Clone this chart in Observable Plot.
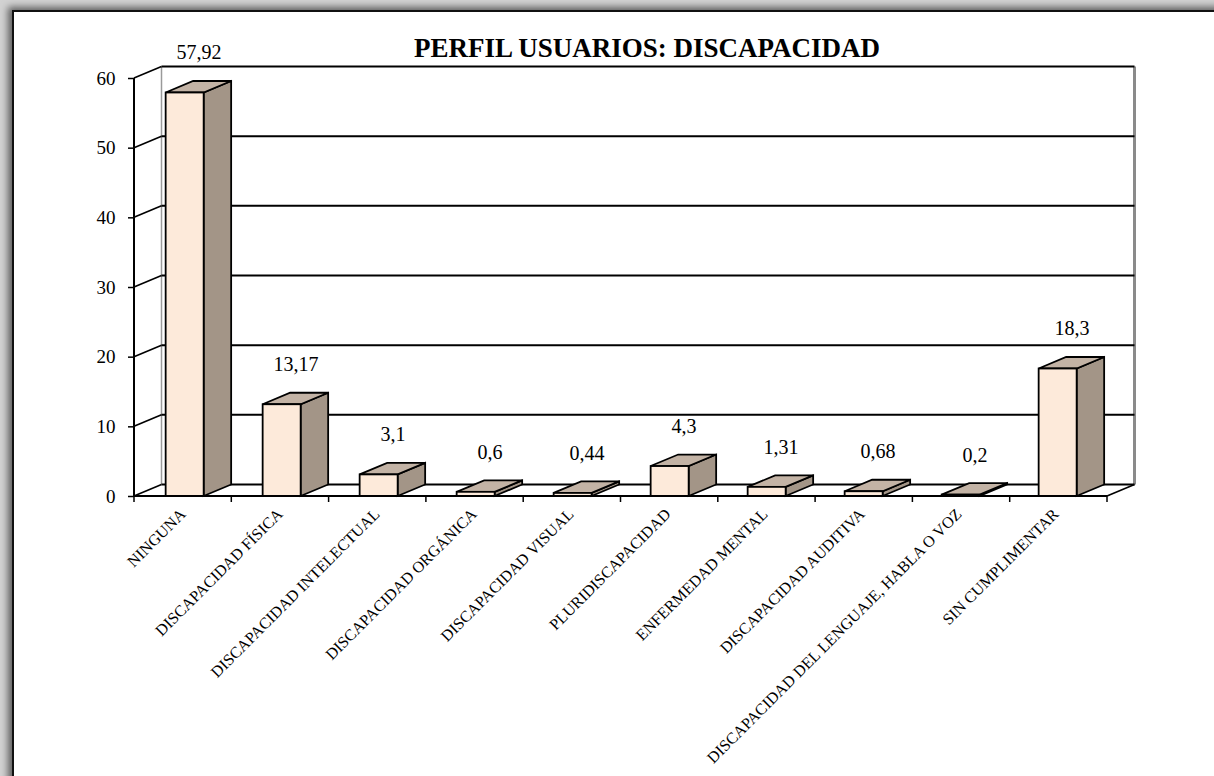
<!DOCTYPE html>
<html><head><meta charset="utf-8">
<script src="https://cdn.jsdelivr.net/npm/d3@7"></script>
<script src="https://cdn.jsdelivr.net/npm/@observablehq/plot@0.6"></script>
<style>
html,body{margin:0;padding:0;width:1214px;height:776px;overflow:hidden;background:#d2d2d2;}
#panel{position:absolute;left:12px;top:10px;width:1400px;height:1000px;background:#fff;border-top:2px solid #111;border-left:2px solid #111;box-shadow:-4px -3px 7px rgba(0,0,0,.55);}
#chart{position:absolute;left:0;top:0;}
#chart svg, #chart svg text, #chart svg g {font-family:"Liberation Serif", "Times New Roman", serif !important;}
</style></head>
<body><div id="panel"></div><div id="chart"></div>
<script>
const title = "PERFIL USUARIOS: DISCAPACIDAD";
const categories = [
  "NINGUNA",
  "DISCAPACIDAD FÍSICA",
  "DISCAPACIDAD INTELECTUAL",
  "DISCAPACIDAD ORGÁNICA",
  "DISCAPACIDAD VISUAL",
  "PLURIDISCAPACIDAD",
  "ENFERMEDAD MENTAL",
  "DISCAPACIDAD AUDITIVA",
  "DISCAPACIDAD DEL LENGUAJE, HABLA O VOZ",
  "SIN CUMPLIMENTAR"
];
const values = [57.92, 13.17, 3.1, 0.6, 0.44, 4.3, 1.31, 0.68, 0.2, 18.3];
const yTicks = [0, 10, 20, 30, 40, 50, 60];

const rows = categories.map((c, i) => ({cat: c, value: values[i], label: String(values[i]).replace(".", ",")}));

const FONT = "Liberation Serif";
const DX = 27.5, DY = -11.5, HALF = 19;
const FRONT = "#FDEADA", SIDE = "#A39587", TOP = "#C3B3A5";

function scene(index, scales, vals, dims) {
  const x = scales.x, y = scales.y;
  const n = categories.length;
  const x0 = dims.marginLeft, x1 = dims.width - dims.marginRight;
  const bw = (x1 - x0) / n;
  const g = d3.create("svg:g").attr("fill", "none").attr("stroke", "#000").attr("stroke-linejoin", "miter");
  const y0 = y(0), yMax = y(yTicks[yTicks.length - 1]);
  g.append("line").attr("x1", x0 + DX).attr("x2", x0 + DX).attr("y1", y0 + DY).attr("y2", yMax + DY).attr("stroke", "#9a9a9a").attr("stroke-width", 1.5);
  g.append("line").attr("x1", x1 + DX).attr("x2", x1 + DX).attr("y1", y0 + DY).attr("y2", yMax + DY).attr("stroke", "#8a8a8a").attr("stroke-width", 3);
  for (const t of yTicks) {
    const yy = y(t);
    g.append("line").attr("x1", x0 + DX).attr("x2", x1 + DX).attr("y1", yy + DY).attr("y2", yy + DY).attr("stroke-width", 2);
    g.append("line").attr("x1", x0).attr("y1", yy).attr("x2", x0 + DX).attr("y2", yy + DY).attr("stroke-width", 1.6);
  }
  g.append("line").attr("x1", x1).attr("y1", y0).attr("x2", x1 + DX).attr("y2", y0 + DY).attr("stroke-width", 1.6);
  g.append("line").attr("x1", x0).attr("x2", x0).attr("y1", y0).attr("y2", yMax).attr("stroke-width", 2);
  rows.forEach((d) => {
    const cx = x(d.cat) + bw / 2;
    const l = cx - HALF, r = cx + HALF, top = y(d.value), base = y0;
    g.append("polygon").attr("points", [[r, base], [r + DX, base + DY], [r + DX, top + DY], [r, top]].join(" "))
      .attr("fill", SIDE).attr("stroke-width", 1.8);
    g.append("polygon").attr("points", [[l, top], [l + DX, top + DY], [r + DX, top + DY], [r, top]].join(" "))
      .attr("fill", TOP).attr("stroke-width", 1.8);
    g.append("rect").attr("x", l).attr("y", top).attr("width", r - l).attr("height", Math.max(0, base - top))
      .attr("fill", FRONT).attr("stroke-width", 1.8);
  });
  g.append("line").attr("x1", x0).attr("x2", x1).attr("y1", y0).attr("y2", y0).attr("stroke-width", 2);
  for (let k = 0; k <= n; k++) {
    const xx = x0 + k * bw;
    g.append("line").attr("x1", xx).attr("x2", xx).attr("y1", y0).attr("y2", y0 + 6).attr("stroke-width", 1.5);
  }
  return g.node();
}

const chart = Plot.plot({
  width: 1214,
  height: 776,
  marginLeft: 134,
  marginRight: 107,
  marginTop: 78,
  marginBottom: 280,
  style: {fontFamily: FONT, background: "transparent", color: "#000", overflow: "visible"},
  x: {type: "band", domain: categories, padding: 0},
  y: {domain: [0, 60]},
  marks: [
    scene,
    Plot.axisY({ticks: yTicks, tickSize: 6, tickPadding: 13, fontSize: 19, fontFamily: FONT, label: null, strokeWidth: 1.5, tickFormat: d => String(d)}),
    Plot.axisX({tickRotate: -45, tickSize: 0, tickPadding: 15, dx: -2, fontSize: 16, fontFamily: FONT, label: null}),
    Plot.text(rows, {x: "cat", y: "value", text: "label", dx: 14, dy: -40, fontSize: 20, fontFamily: FONT, fill: "#000"}),
    Plot.text([title], {frameAnchor: "top", dx: 26, dy: -22, lineAnchor: "bottom", fontSize: 27, fontWeight: "bold", fontFamily: FONT, fill: "#000"})
  ]
});
document.getElementById("chart").appendChild(chart);
</script>
</body></html>
